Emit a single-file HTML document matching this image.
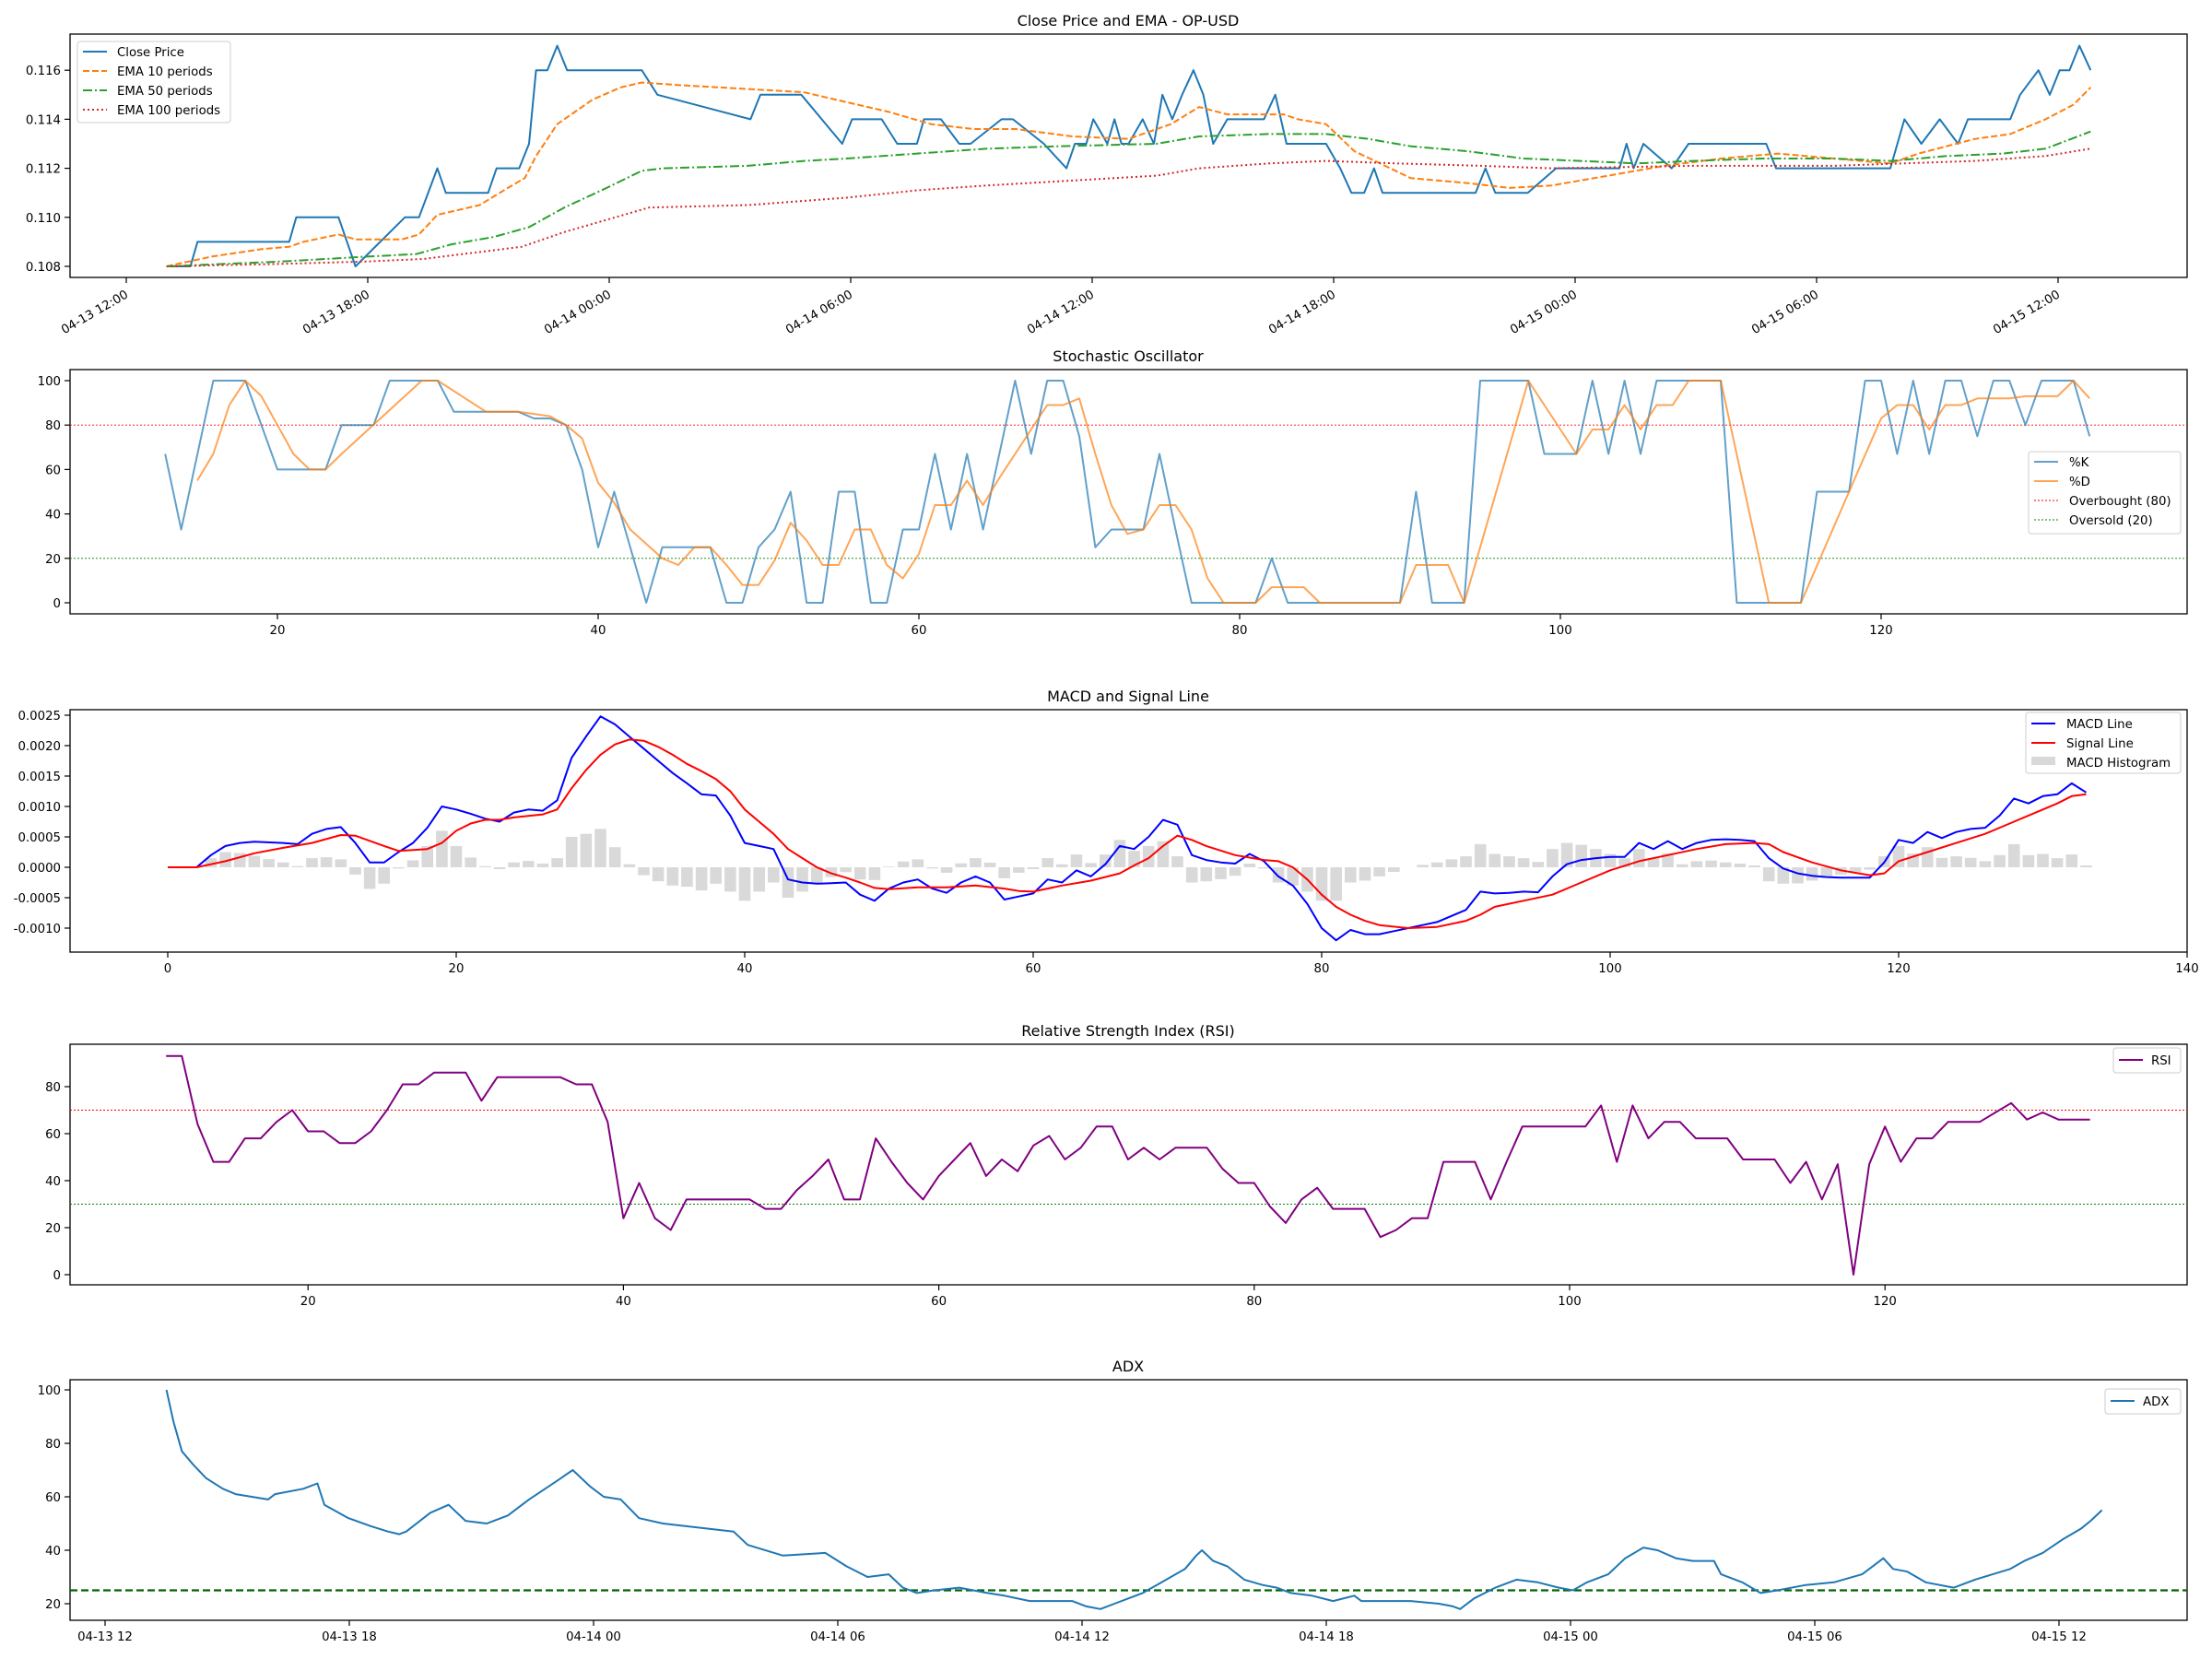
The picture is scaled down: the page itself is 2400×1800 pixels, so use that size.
<!DOCTYPE html>
<html><head><meta charset="utf-8">
<style>html,body{margin:0;padding:0;background:#fff;}svg{display:block;}text{font-family:"DejaVu Sans","Liberation Sans",sans-serif;}</style>
</head><body>
<svg id="s" width="2400" height="1800" xmlns="http://www.w3.org/2000/svg"></svg>
<script>
var S=document.getElementById('s');var out='';
function pl(pts,c,w,extra){out+='<polyline fill="none" stroke="'+c+'" stroke-width="'+w+'" stroke-linejoin="round" '+(extra||'')+' points="'+pts.map(function(p){return p[0].toFixed(1)+','+p[1].toFixed(1)}).join(' ')+'"/>';}
function line(x1,y1,x2,y2,c,w,extra){out+='<line x1="'+x1+'" y1="'+y1+'" x2="'+x2+'" y2="'+y2+'" stroke="'+c+'" stroke-width="'+w+'" '+(extra||'')+'/>';}
function txt(x,y,t,anchor,size,extra){out+='<text x="'+x+'" y="'+y+'" font-size="'+(size||13.3)+'" text-anchor="'+(anchor||'start')+'" '+(extra||'')+'>'+t+'</text>';}
function frame(y0,y1,title){out+='<rect x="76" y="'+y0+'" width="2297" height="'+(y1-y0)+'" fill="none" stroke="#000" stroke-width="1.3"/>';txt(1224,y0-9,title,'middle',16);}
function yt(y,l){line(70,y,76,y,'#000',1.2);txt(66,y+5,l,'end');}
function xt(x,l,y1){line(x,y1,x,y1+6,'#000',1.2);if(l!==null)txt(x,y1+22,l,'middle');}
var K=1.5306;
// Panel 1
frame(37,301,'Close Price and EMA - OP-USD');
function py(v){return 289-(v-0.108)*26600;}
[0.108,0.110,0.112,0.114,0.116].forEach(function(v){yt(py(v),v.toFixed(3));});
var lab=['04-13 12:00','04-13 18:00','04-14 00:00','04-14 06:00','04-14 12:00','04-14 18:00','04-15 00:00','04-15 06:00','04-15 12:00'];
lab.forEach(function(l,i){var x=137+262*i;line(x,301,x,307,'#000',1.2);out+='<text x="'+(x+3)+'" y="322" font-size="13.3" text-anchor="end" transform="rotate(-30 '+(x+3)+' 322)">'+l+'</text>';});
function cv(a){var r=[];for(var i=0;i<a.length;i+=2)r.push([a[i]*K,py(a[i+1])]);return r;}
var close=[118,.108,135,.108,140,.109,205,.109,210,.110,240,.110,252,.108,287,.110,297,.110,310,.112,316,.111,346,.111,352,.112,368,.112,375,.113,380,.116,388,.116,395,.117,402,.116,455,.116,466,.115,532,.114,539,.115,568,.115,597,.113,604,.114,625,.114,636,.113,650,.113,655,.114,667,.114,680,.113,688,.113,710,.114,718,.114,740,.113,756,.112,762,.113,770,.113,775,.114,785,.113,790,.114,795,.113,800,.113,810,.114,818,.113,824,.115,831,.114,838,.115,846,.116,853,.115,860,.113,870,.114,896,.114,904,.115,912,.113,940,.113,950,.112,958,.111,967,.111,974,.112,980,.111,1046,.111,1053,.112,1060,.111,1083,.111,1103,.112,1148,.112,1153,.113,1158,.112,1165,.113,1185,.112,1197,.113,1252,.113,1259,.112,1340,.112,1350,.114,1362,.113,1375,.114,1388,.113,1395,.114,1425,.114,1432,.115,1445,.116,1453,.115,1460,.116,1467,.116,1474,.117,1482,.116];
var e10=[118,.108,150,.1084,185,.1087,205,.1088,215,.109,240,.1093,252,.1091,285,.1091,297,.1093,310,.1101,340,.1105,360,.1112,372,.1116,380,.1125,395,.1138,420,.1148,440,.1153,455,.1155,480,.1154,570,.1151,600,.1147,630,.1143,660,.1138,690,.1136,720,.1136,760,.1133,800,.1132,830,.1138,850,.1145,870,.1142,910,.1142,920,.1140,940,.1138,960,.1127,1000,.1116,1040,.1114,1070,.1112,1100,.1113,1140,.1117,1180,.1121,1220,.1124,1260,.1126,1300,.1124,1340,.1122,1360,.1126,1400,.1132,1425,.1134,1450,.114,1470,.1146,1482,.1153];
var e50=[118,.108,200,.1082,260,.1084,295,.1085,320,.1089,350,.1092,375,.1096,400,.1104,430,.1112,455,.1119,470,.1120,530,.1121,570,.1123,600,.1124,650,.1126,700,.1128,750,.1129,820,.1130,850,.1133,900,.1134,940,.1134,970,.1132,1000,.1129,1040,.1127,1080,.1124,1120,.1123,1160,.1122,1200,.1123,1250,.1124,1300,.1124,1340,.1123,1380,.1125,1420,.1126,1450,.1128,1482,.1135];
var e100=[118,.108,200,.1081,260,.1082,300,.1083,370,.1088,400,.1094,430,.1099,460,.1104,530,.1105,600,.1108,650,.1111,700,.1113,760,.1115,820,.1117,850,.1120,900,.1122,940,.1123,990,.1122,1050,.1121,1100,.1120,1200,.1121,1300,.1121,1400,.1123,1450,.1125,1482,.1128];
pl(cv(close),'#1f77b4',2);
pl(cv(e10),'#ff7f0e',2,'stroke-dasharray="7,3"');
pl(cv(e50),'#2ca02c',2,'stroke-dasharray="10,3,2,3"');
pl(cv(e100),'#d62728',2,'stroke-dasharray="2,3"');
out+='<rect x="84" y="45" width="166" height="88" rx="3" fill="#fff" fill-opacity="0.8" stroke="#ccc"/>';
[['Close Price','#1f77b4',''],['EMA 10 periods','#ff7f0e','stroke-dasharray="7,3"'],['EMA 50 periods','#2ca02c','stroke-dasharray="10,3,2,3"'],['EMA 100 periods','#d62728','stroke-dasharray="2,3"']].forEach(function(a,i){var y=56+i*21;line(90,y,116,y,a[1],2,a[2]);txt(127,y+5,a[0],'start',13.3);});
// Panel 2 Stoch
frame(401,666,'Stochastic Oscillator');
function sx(i){return -47+17.4*i;}function sy(v){return 654-v*2.41;}
[0,20,40,60,80,100].forEach(function(v){yt(sy(v),v);});
[20,40,60,80,100,120].forEach(function(v){xt(sx(v),v,666);});
line(76,sy(80),2373,sy(80),'#ff0000',0.9,'stroke-dasharray="2,2"');
line(76,sy(20),2373,sy(20),'#008000',0.9,'stroke-dasharray="2,2"');
function ip(a,fx,fy){var r=[];for(var i=0;i<a.length;i+=2)r.push([fx(a[i]),fy(a[i+1])]);return r;}
var kk=[13,67,14,33,16,100,18,100,20,60,23,60,24,80,26,80,27,100,30,100,31,86,35,86,36,83,37,83,38,80,39,60,40,25,41,50,43,0,44,25,47,25,48,0,49,0,50,25,51,33,52,50,53,0,54,0,55,50,56,50,57,0,58,0,59,33,60,33,61,67,62,33,63,67,64,33,66,100,67,67,68,100,69,100,70,75,71,25,72,33,74,33,75,67,76,33,77,0,81,0,82,20,83,0,90,0,91,50,92,0,94,0,95,100,98,100,99,67,101,67,102,100,103,67,104,100,105,67,106,100,110,100,111,0,115,0,116,50,118,50,119,100,120,100,121,67,122,100,123,67,124,100,125,100,126,75,127,100,128,100,129,80,130,100,132,100,133,75];
var dd=[15,55,16,67,17,89,18,100,19,93,20,80,21,67,22,60,23,60,24,67,29,100,30,100,33,86,35,86,36,85,37,84,38,80,39,74,40,54,41,45,42,33,44,20,45,17,46,25,47,25,48,17,49,8,50,8,51,19,52,36,53,28,54,17,55,17,56,33,57,33,58,17,59,11,60,22,61,44,62,44,63,55,64,44,65,56,66,67,67,78,68,89,69,89,70,92,71,67,72,44,73,31,74,33,75,44,76,44,77,33,78,11,79,0,81,0,82,7,84,7,85,0,90,0,91,17,93,17,94,0,98,100,101,67,102,78,103,78,104,89,105,78,106,89,107,89,108,100,110,100,113,0,115,0,118,50,120,83,121,89,122,89,123,78,124,89,125,89,126,92,128,92,129,93,131,93,132,100,133,92];
pl(ip(kk,sx,sy),'#1f77b4',2,'stroke-opacity="0.7"');
pl(ip(dd,sx,sy),'#ff7f0e',2,'stroke-opacity="0.7"');
out+='<rect x="2201" y="490" width="165" height="89" rx="3" fill="#fff" fill-opacity="0.8" stroke="#ccc"/>';
[['%K','#1f77b4',2,'stroke-opacity="0.7"'],['%D','#ff7f0e',2,'stroke-opacity="0.7"'],['Overbought (80)','#ff0000',0.9,'stroke-dasharray="2,2"'],['Oversold (20)','#008000',0.9,'stroke-dasharray="2,2"']].forEach(function(a,i){var y=501+i*21;line(2207,y,2233,y,a[1],a[2],a[3]);txt(2245,y+5,a[0]);});
// Panel 3 MACD
frame(770,1033,'MACD and Signal Line');
function mx(i){return 182+15.65*i;}function my(v){return 941-v*6.6;}
[-10,-5,0,5,10,15,20,25].forEach(function(v){yt(my(v),(v/10000).toFixed(4));});
[0,20,40,60,80,100,120,140].forEach(function(v){xt(mx(v),v,1033);});
var M=[0,0,2,0,3,2,4,3.5,5,4,6,4.2,8,4,9,3.8,10,5.5,11,6.3,12,6.6,13,4,14,0.8,15,0.8,16,2.5,17,4,18,6.5,19,10,20,9.5,21,8.8,22,8,23,7.5,24,9,25,9.5,26,9.3,27,11,28,18,29,21.5,30,24.8,31,23.5,32,21.5,33,19.5,34,17.5,35,15.5,36,13.8,37,12,38,11.8,39,8.5,40,4,41,3.5,42,3,43,-2,44,-2.5,45,-2.7,46,-2.6,47,-2.5,48,-4.5,49,-5.5,50,-3.5,51,-2.5,52,-2,53,-3.5,54,-4.2,55,-2.5,56,-1.5,57,-2.5,58,-5.3,59,-4.8,60,-4.3,61,-2,62,-2.5,63,-0.5,64,-1.5,65,0.5,66,3.5,67,3,68,5,69,7.8,70,7,71,2,72,1.2,73,0.8,74,0.6,75,2.2,76,1,77,-1.5,78,-3,79,-6,80,-10,81,-12,82,-10.3,83,-11,84,-11,85,-10.5,86,-10,87,-9.5,88,-9,89,-8,90,-7,91,-4,92,-4.3,93,-4.2,94,-4,95,-4.1,96,-1.5,97,0.5,98,1.2,99,1.5,100,1.7,101,1.7,102,4,103,3,104,4.3,105,3,106,4,107,4.5,108,4.6,109,4.5,110,4.3,111,1.5,112,-0.2,113,-1,114,-1.4,115,-1.6,116,-1.7,117,-1.7,118,-1.7,119,0.8,120,4.5,121,4,122,5.8,123,4.8,124,5.8,125,6.3,126,6.5,127,8.5,128,11.3,129,10.5,130,11.7,131,12,132,13.8,133,12.3];
var G=[0,0,2,0,4,1,6,2.3,8,3.2,10,4,12,5.3,13,5.2,15,3.5,16,2.7,18,3,19,4,20,6,21,7.2,22,7.8,23,7.8,24,8.2,26,8.7,27,9.5,28,13,29,16,30,18.5,31,20.2,32,21,33,20.8,34,19.8,35,18.5,36,17,37,15.8,38,14.5,39,12.5,40,9.5,41,7.5,42,5.5,43,3,44,1.5,45,0,46,-1,47,-1.7,48,-2.5,49,-3.4,50,-3.6,52,-3.3,54,-3.3,56,-3,58,-3.5,59,-3.9,60,-4,62,-3,64,-2.2,66,-1,67,0.3,68,1.5,69,3.5,70,5.2,71,4.5,72,3.5,74,2,76,1.2,77,1,78,0,79,-2,80,-4.5,81,-6.5,82,-7.8,83,-8.8,84,-9.5,86,-10,88,-9.8,90,-8.8,91,-7.8,92,-6.5,94,-5.5,96,-4.5,98,-2.5,100,-0.5,102,1,104,2,106,3,108,3.8,110,4,111,3.8,112,2.5,114,0.8,116,-0.5,118,-1.3,119,-1,120,1,122,2.5,124,4,126,5.5,128,7.5,130,9.5,131,10.5,132,11.7,133,12];
function interp(a,x){for(var i=0;i<a.length-2;i+=2){if(x>=a[i]&&x<=a[i+2]){var t=(x-a[i])/(a[i+2]-a[i]);return a[i+1]+t*(a[i+3]-a[i+1]);}}return a[a.length-1];}
for(var i=0;i<=133;i++){var h=interp(M,i)-interp(G,i);var y0=my(0),y1=my(h);out+='<rect x="'+(mx(i)-6.3).toFixed(1)+'" y="'+Math.min(y0,y1).toFixed(1)+'" width="12.6" height="'+Math.abs(y1-y0).toFixed(1)+'" fill="#808080" fill-opacity="0.3"/>';}
pl(ip(M,mx,my),'#0000ff',2);
pl(ip(G,mx,my),'#ff0000',2);
out+='<rect x="2198" y="773" width="168" height="66" rx="3" fill="#fff" fill-opacity="0.8" stroke="#ccc"/>';
line(2204,785,2230,785,'#0000ff',2);txt(2242,790,'MACD Line');
line(2204,806,2230,806,'#ff0000',2);txt(2242,811,'Signal Line');
out+='<rect x="2204" y="821" width="26" height="9" fill="#808080" fill-opacity="0.3"/>';txt(2242,832,'MACD Histogram');
// Panel 4 RSI
frame(1133,1394,'Relative Strength Index (RSI)');
function rx(i){return -8+17.11*i;}function ry(v){return 1383-2.55*v;}
[0,20,40,60,80].forEach(function(v){yt(ry(v),v);});
[20,40,60,80,100,120].forEach(function(v){xt(rx(v),v,1394);});
line(76,ry(70),2373,ry(70),'#ff0000',0.9,'stroke-dasharray="2,2"');
line(76,ry(30),2373,ry(30),'#008000',0.9,'stroke-dasharray="2,2"');
var R=[11,93,12,93,13,64,14,48,15,48,16,58,17,58,18,65,19,70,20,61,21,61,22,56,23,56,24,61,25,70,26,81,27,81,28,86,30,86,31,74,32,84,36,84,37,81,38,81,39,65,40,24,41,39,42,24,43,19,44,32,48,32,49,28,50,28,51,36,52,42,53,49,54,32,55,32,56,58,57,48,58,39,59,32,60,42,61,49,62,56,63,42,64,49,65,44,66,55,67,59,68,49,69,54,70,63,71,63,72,49,73,54,74,49,75,54,77,54,78,45,79,39,80,39,81,29,82,22,83,32,84,37,85,28,87,28,88,16,89,19,90,24,91,24,92,48,94,48,95,32,96,48,97,63,101,63,102,72,103,48,104,72,105,58,106,65,107,65,108,58,110,58,111,49,113,49,114,39,115,48,116,32,117,47,118,0,119,47,120,63,121,48,122,58,123,58,124,65,126,65,127,69,128,73,129,66,130,69,131,66,133,66];
pl(ip(R,rx,ry),'#800080',2);
out+='<rect x="2293" y="1137" width="73" height="27" rx="3" fill="#fff" fill-opacity="0.8" stroke="#ccc"/>';
line(2299,1150,2325,1150,'#800080',2);txt(2334,1155,'RSI');
// Panel 5 ADX
frame(1497,1758,'ADX');
function ay(v){return 1508+(100-v)*2.9;}
[20,40,60,80,100].forEach(function(v){yt(ay(v),v);});
['04-13 12','04-13 18','04-14 00','04-14 06','04-14 12','04-14 18','04-15 00','04-15 06','04-15 12'].forEach(function(l,i){xt(114+265*i,l,1758);});
line(76,ay(25),2373,ay(25),'#006400',2.2,'stroke-dasharray="8,4"');
var A=[118,100,123,88,129,77,137,72,146,67,158,63,167,61,190,59,195,61,215,63,225,65,230,57,247,52,263,49,275,47,283,46,288,47,305,54,318,57,330,51,345,50,360,53,375,59,395,66,406,70,418,64,428,60,440,59,453,52,470,50,520,47,530,42,555,38,585,39,600,34,615,30,630,31,640,26,650,24,662,25,680,26,690,25,700,24,712,23,730,21,760,21,770,19,780,18,790,20,800,22,810,24,820,27,830,30,840,33,848,38,852,40,860,36,870,34,882,29,895,27,905,26,915,24,930,23,945,21,960,23,965,21,980,21,1000,21,1020,20,1030,19,1035,18,1045,22,1060,26,1075,29,1090,28,1105,26,1115,25,1125,28,1140,31,1152,37,1165,41,1175,40,1188,37,1200,36,1215,36,1220,31,1235,28,1248,24,1260,25,1280,27,1300,28,1320,31,1335,37,1342,33,1352,32,1365,28,1385,26,1400,29,1425,33,1435,36,1448,39,1462,44,1475,48,1482,51,1490,55];
pl(ip(A,function(x){return x*K;},ay),'#1f77b4',2);
out+='<rect x="2284" y="1507" width="82" height="27" rx="3" fill="#fff" fill-opacity="0.8" stroke="#ccc"/>';
line(2290,1520,2316,1520,'#1f77b4',2);txt(2325,1525,'ADX');
S.innerHTML=out;
</script>
</body></html>
